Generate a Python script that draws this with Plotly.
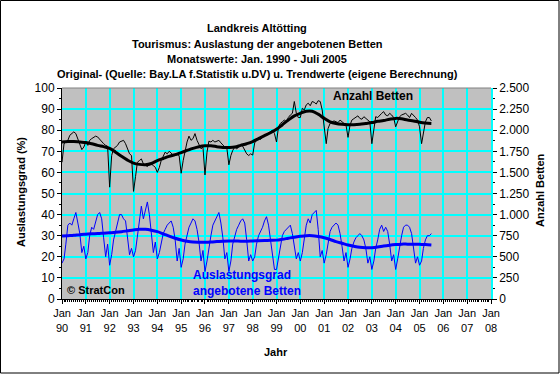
import pandas as pd
import plotly.graph_objects as go

# Occupancy of offered beds (%), monthly Jan 1990 - Jul 2005
occ_1990 = [17, 19, 26, 35, 36, 35, 38, 41, 36, 31, 22, 25]
occ_1991 = [19, 22, 30, 34, 33, 37, 40, 41, 38, 29, 20, 26]
occ_1992 = [16, 21, 28, 32, 36, 40, 40, 38, 37, 30, 21, 24]
occ_1993 = [20, 23, 30, 36, 44, 38, 42, 46, 40, 32, 22, 27]
occ_1994 = [19, 22, 27, 31, 33, 35, 36, 37, 34, 28, 18, 24]
occ_1995 = [15, 19, 26, 31, 34, 36, 38, 37, 33, 27, 18, 23]
occ_1996 = [13, 18, 25, 30, 35, 37, 39, 41, 36, 29, 19, 22]
occ_1997 = [13, 18, 26, 30, 33, 35, 37, 38, 36, 28, 18, 21]
occ_1998 = [18, 20, 26, 30, 32, 34, 37, 39, 35, 28, 20, 14]
occ_1999 = [14, 19, 25, 30, 32, 33, 34, 35, 31, 26, 19, 22]
occ_2000 = [18, 22, 29, 35, 38, 36, 40, 41, 42, 33, 20, 23]
occ_2001 = [17, 21, 27, 32, 34, 35, 36, 35, 31, 25, 18, 22]
occ_2002 = [15, 19, 24, 27, 29, 30, 31, 30, 28, 24, 17, 20]
occ_2003 = [14, 18, 24, 28, 33, 35, 32, 34, 32, 26, 18, 21]
occ_2004 = [14, 19, 25, 30, 34, 35, 35, 34, 31, 25, 17, 20]
occ_2005 = [16, 18, 24, 28, 30, 30, 31]

# Occupancy trend (%), quarterly
occ_trend = [29.8, 30.0, 30.2, 30.5, 30.7, 30.9, 31.0, 31.2,
             31.4, 31.6, 31.9, 32.3, 32.7, 33.0, 33.0, 32.6,
             31.9, 30.9, 29.8, 28.8, 28.0, 27.4, 27.0, 26.9,
             26.9, 27.0, 27.2, 27.4, 27.5, 27.5, 27.4, 27.4,
             27.5, 27.6, 27.7, 27.8, 27.9, 28.3, 28.8, 29.3,
             29.7, 30.0, 30.0, 29.6, 29.0, 28.2, 27.2, 26.4,
             25.6, 25.0, 24.5, 24.3, 24.3, 24.6, 25.1, 25.5,
             25.8, 26.0, 26.0, 26.0, 25.9, 25.8, 25.6]

# Number of beds, monthly
beds_1990 = [1620, 1840, 1860, 1880, 1940, 1960, 1980, 1960, 1900, 1830, 1770, 1800]
beds_1991 = [1860, 1820, 1880, 1900, 1920, 1930, 1920, 1890, 1870, 1840, 1820, 1810]
beds_1992 = [1325, 1700, 1780, 1800, 1820, 1860, 1870, 1880, 1840, 1780, 1720, 1700]
beds_1993 = [1275, 1450, 1620, 1640, 1660, 1600, 1580, 1570, 1590, 1600, 1580, 1560]
beds_1994 = [1500, 1560, 1640, 1700, 1740, 1720, 1750, 1730, 1700, 1700, 1710, 1700]
beds_1995 = [1490, 1640, 1750, 1860, 1930, 1880, 1900, 1960, 1880, 1820, 1780, 1800]
beds_1996 = [1470, 1740, 1870, 1860, 1880, 1860, 1870, 1880, 1850, 1820, 1800, 1790]
beds_1997 = [1590, 1700, 1760, 1800, 1780, 1800, 1830, 1810, 1770, 1720, 1700, 1720]
beds_1998 = [1705, 1850, 1880, 1900, 1890, 1920, 1940, 1950, 1970, 1990, 2000, 1960]
beds_1999 = [1860, 2040, 2080, 2100, 2120, 2100, 2150, 2180, 2200, 2340, 2200, 2150]
beds_2000 = [2150, 2260, 2240, 2300, 2320, 2290, 2340, 2330, 2310, 2350, 2340, 2240]
beds_2001 = [2000, 1840, 2020, 2080, 2100, 2110, 2100, 2090, 2120, 2100, 2080, 2060]
beds_2002 = [1915, 2060, 2120, 2140, 2150, 2170, 2140, 2130, 2160, 2140, 2120, 2100]
beds_2003 = [1840, 2040, 2160, 2150, 2180, 2200, 2220, 2180, 2170, 2200, 2180, 2150]
beds_2004 = [2040, 2100, 2160, 2180, 2190, 2200, 2180, 2150, 2200, 2180, 2150, 2120]
beds_2005 = [2040, 1840, 1950, 2100, 2150, 2150, 2110]

# Beds trend, quarterly
beds_trend = [1860, 1865, 1865, 1860, 1855, 1840, 1820, 1805,
              1785, 1740, 1690, 1645, 1610, 1595, 1590, 1605,
              1640, 1665, 1690, 1710, 1735, 1760, 1785, 1805,
              1815, 1815, 1805, 1795, 1795, 1800, 1820, 1840,
              1865, 1900, 1935, 1970, 2010, 2065, 2120, 2170,
              2200, 2225, 2225, 2190, 2140, 2100, 2080, 2070,
              2065, 2065, 2070, 2080, 2090, 2105, 2115, 2130,
              2140, 2135, 2120, 2110, 2095, 2085, 2080]

tick_years = ["90", "91", "92", "93", "94", "95", "96", "97", "98", "99",
              "00", "01", "02", "03", "04", "05", "06", "07", "08"]

occ = (occ_1990 + occ_1991 + occ_1992 + occ_1993 + occ_1994 + occ_1995 + occ_1996 +
       occ_1997 + occ_1998 + occ_1999 + occ_2000 + occ_2001 + occ_2002 + occ_2003 +
       occ_2004 + occ_2005)
beds = (beds_1990 + beds_1991 + beds_1992 + beds_1993 + beds_1994 + beds_1995 +
        beds_1996 + beds_1997 + beds_1998 + beds_1999 + beds_2000 + beds_2001 +
        beds_2002 + beds_2003 + beds_2004 + beds_2005)

months = pd.date_range("1990-01-01", periods=len(occ), freq="MS")
quarters = pd.date_range("1990-01-01", periods=len(occ_trend), freq="3MS")
tick_dates = pd.date_range("1990-01-01", periods=len(tick_years), freq="YS")

FONT = "Arial, Liberation Sans, sans-serif"
BLUE = "#0000FF"
GRID = "#00FFFF"

fig = go.Figure()
fig.add_trace(go.Scatter(x=months, y=beds, yaxis="y2", mode="lines",
                         line=dict(color="black", width=1), showlegend=False))
fig.add_trace(go.Scatter(x=quarters, y=beds_trend, yaxis="y2", mode="lines",
                         line=dict(color="black", width=3, shape="spline"), showlegend=False))
fig.add_trace(go.Scatter(x=months, y=occ, mode="lines",
                         line=dict(color=BLUE, width=1), showlegend=False))
fig.add_trace(go.Scatter(x=quarters, y=occ_trend, mode="lines",
                         line=dict(color=BLUE, width=3, shape="spline"), showlegend=False))

L, R, T, B = 62, 69, 88, 75
PW, PH = 560 - L - R, 374 - T - B


def px(xp):
    return (xp - L) / PW


def py(yp):
    return (374 - B - yp) / PH


title_lines = ["Landkreis Altötting",
               "Tourismus: Auslastung der angebotenen Betten",
               "Monatswerte: Jan. 1990 - Juli 2005",
               "Original- (Quelle: Bay.LA f.Statistik u.DV) u. Trendwerte (eigene Berechnung)"]
title_y = [28, 44, 59, 74]

annotations = []
for t, yy in zip(title_lines, title_y):
    annotations.append(dict(text="<b>" + t + "</b>", xref="paper", yref="paper",
                            x=px(257), y=py(yy), showarrow=False,
                            xanchor="center", yanchor="middle",
                            font=dict(family=FONT, size=11, color="black")))
annotations += [
    dict(text="<b>Anzahl Betten</b>", xref="paper", yref="paper", x=px(373), y=py(96),
         showarrow=False, xanchor="center", yanchor="middle",
         font=dict(family=FONT, size=12, color="black")),
    dict(text="<b>Auslastungsgrad<br>angebotene Betten</b>", xref="paper", yref="paper",
         x=px(191), y=py(283), showarrow=False, xanchor="left", yanchor="middle",
         align="left", font=dict(family=FONT, size=12, color=BLUE)),
    dict(text="<b>© StratCon</b>", xref="paper", yref="paper", x=px(65), y=py(290),
         showarrow=False, xanchor="left", yanchor="middle",
         font=dict(family=FONT, size=11, color="black")),
    dict(text="<b>Auslastungsgrad (%)</b>", xref="paper", yref="paper", x=px(21), y=py(192),
         showarrow=False, textangle=-90, xanchor="center", yanchor="middle",
         font=dict(family=FONT, size=11, color="black")),
    dict(text="<b>Anzahl Betten</b>", xref="paper", yref="paper", x=px(540), y=py(190),
         showarrow=False, textangle=-90, xanchor="center", yanchor="middle",
         font=dict(family=FONT, size=11, color="black")),
    dict(text="<b>Jahr</b>", xref="paper", yref="paper", x=px(276), y=py(352),
         showarrow=False, xanchor="center", yanchor="middle",
         font=dict(family=FONT, size=11, color="black")),
]

shapes = [
    dict(type="line", xref="paper", yref="paper", x0=0, x1=1, y0=1, y1=1,
         line=dict(color="#808080", width=1)),
    dict(type="rect", xref="paper", yref="paper", x0=px(0.5), x1=px(559), y0=py(0.5), y1=py(373),
         line=dict(color="black", width=1)),
]

fig.update_layout(
    width=560, height=374,
    margin=dict(l=L, r=R, t=T, b=B),
    paper_bgcolor="white", plot_bgcolor="#C0C0C0",
    separators=",.",
    font=dict(family=FONT, size=11, color="black"),
    annotations=annotations, shapes=shapes,
    xaxis=dict(range=["1990-01-01", "2008-01-01"], tickvals=tick_dates,
               ticktext=["Jan<br>" + y for y in tick_years],
               showgrid=True, gridcolor=GRID, gridwidth=1.6,
               showline=True, linecolor="black", linewidth=1,
               ticks="outside", ticklen=4, tickcolor="black",
               minor=dict(dtick="M1", ticks="outside", ticklen=2, tickcolor="black", showgrid=False),
               zeroline=False, tickfont=dict(size=11)),
    yaxis=dict(range=[0, 100], dtick=10, showgrid=True, gridcolor=GRID, gridwidth=1.6,
               showline=True, linecolor="black", linewidth=1,
               ticks="outside", ticklen=4, tickcolor="black",
               minor=dict(dtick=5, ticks="outside", ticklen=2, tickcolor="black", showgrid=False),
               zeroline=False, tickfont=dict(size=12)),
    yaxis2=dict(range=[0, 2500], dtick=250, overlaying="y", side="right",
                tickformat=",d", showgrid=False,
                showline=True, linecolor=GRID, linewidth=1.6,
                ticks="outside", ticklen=4, tickcolor="black",
                minor=dict(dtick=125, ticks="outside", ticklen=2, tickcolor="black"),
                zeroline=False, tickfont=dict(size=12)),
)

fig.write_html("out.html", config={"displayModeBar": False},
               post_script="document.body.style.margin='0';")
